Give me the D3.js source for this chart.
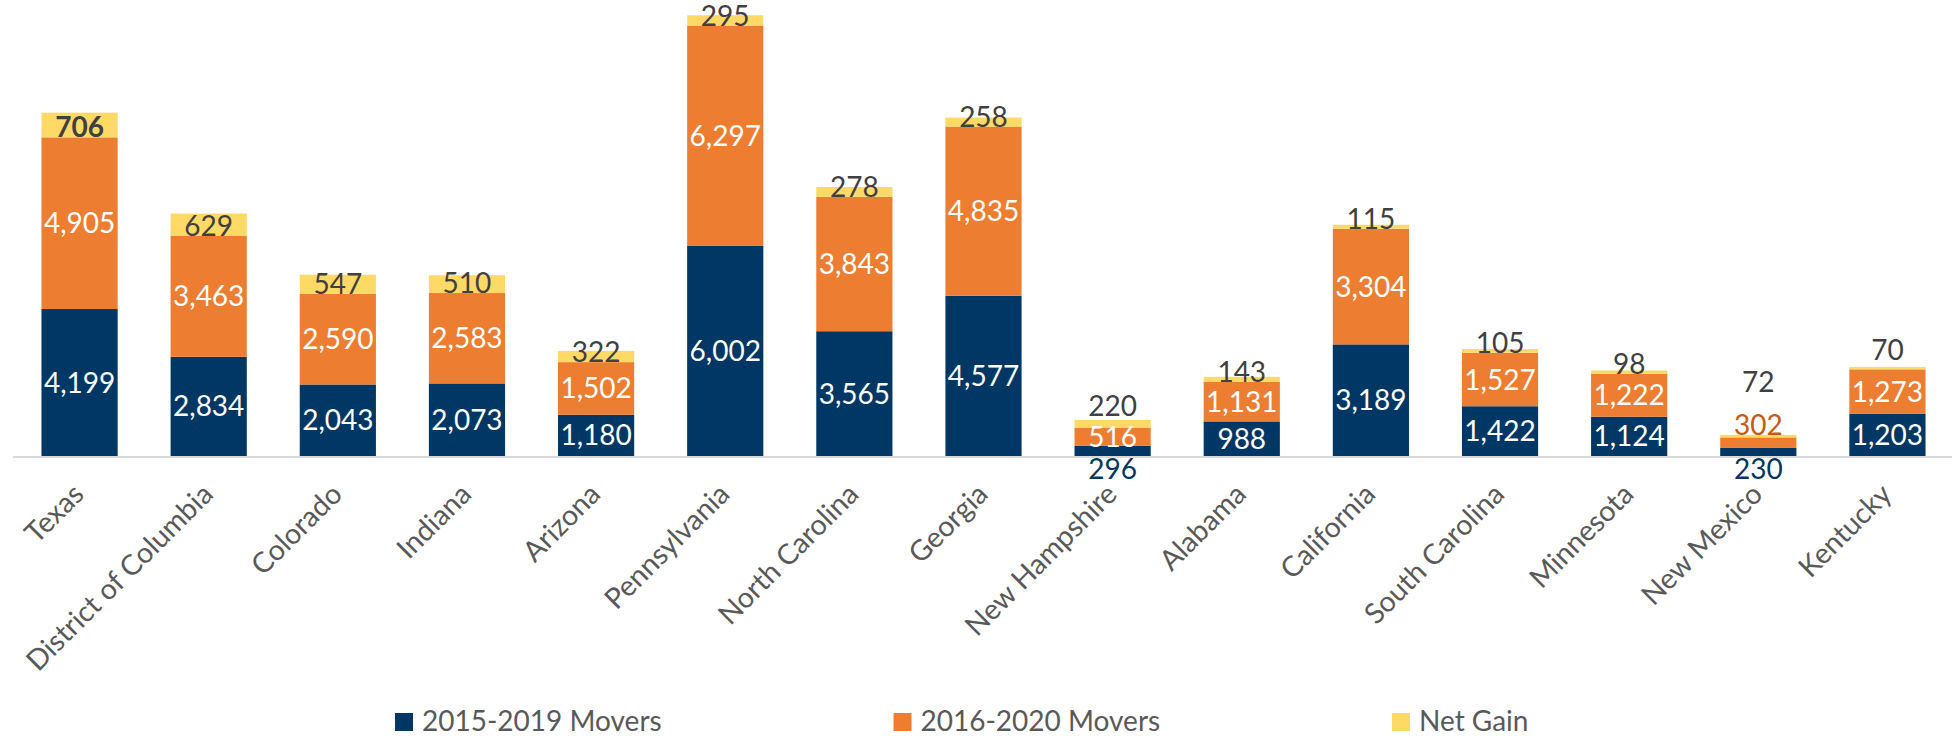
<!DOCTYPE html>
<html>
<head>
<meta charset="utf-8">
<script src="https://cdn.jsdelivr.net/npm/d3@7"></script>
<style>
  html, body { margin: 0; padding: 0; background: #fff; }
  svg { display: block; font-family: Lato, "Open Sans", sans-serif; }
</style>
</head>
<body>
<svg id="chart" width="1952" height="737"></svg>
<script>
// ---- data ----
const categories = ["Texas", "District of Columbia", "Colorado", "Indiana", "Arizona",
  "Pennsylvania", "North Carolina", "Georgia", "New Hampshire", "Alabama",
  "California", "South Carolina", "Minnesota", "New Mexico", "Kentucky"];
const movers2015_2019 = [4199, 2834, 2043, 2073, 1180, 6002, 3565, 4577, 296, 988, 3189, 1422, 1124, 230, 1203];
const movers2016_2020 = [4905, 3463, 2590, 2583, 1502, 6297, 3843, 4835, 516, 1131, 3304, 1527, 1222, 302, 1273];
const netGain = [706, 629, 547, 510, 322, 295, 278, 258, 220, 143, 115, 105, 98, 72, 70];
const seriesNames = ["2015-2019 Movers", "2016-2020 Movers", "Net Gain"];

// ---- styling / layout config ----
const colors = ["#003764", "#ED7D31", "#FFD966"];
const W = 1952, H = 737;
const baseY = 456;
const fs = 28;
// label placement tweaks (layout, not data)
const belowAxis = new Set(["New Hampshire", "New Mexico"]);   // first-series label under the axis
const orangeAbove = new Set(["New Mexico"]);                  // second-series label above the bar
const netAboveGap = { "New Hampshire": 4, "Kentucky": 7, "New Mexico": 43 };

const rows = categories.map((c, i) => ({ cat: c, a: movers2015_2019[i], b: movers2016_2020[i], g: netGain[i] }));
const keys = ["a", "b", "g"];
const stacked = d3.stack().keys(keys)(rows);

const svg = d3.select("#chart");
const x = d3.scaleBand().domain(categories).range([15, W]).paddingInner(0.41).paddingOuter(0.205);
const y = d3.scaleLinear().domain([0, 13000]).range([baseY, 1]);

// bars
const layers = svg.append("g").selectAll("g").data(stacked).join("g")
  .attr("fill", (d, i) => colors[i]);
layers.selectAll("rect").data(d => d).join("rect")
  .attr("x", d => x(d.data.cat))
  .attr("width", x.bandwidth())
  .attr("y", d => y(d[1]))
  .attr("height", d => y(d[0]) - y(d[1]));

// axis line
const axis = d3.axisBottom(x).tickSize(0).tickFormat("");
const axG = svg.append("g").attr("transform", `translate(0,${baseY + 1})`).call(axis);
axG.select(".domain").attr("stroke", "#D9D9D9").attr("stroke-width", 2).attr("d", `M13,0H${W}`);

// category labels
const fmt = d3.format(",");
svg.append("g").selectAll("text").data(categories).join("text")
  .attr("transform", d => `translate(${x(d) + x.bandwidth() / 2 + 6},${baseY + 40}) rotate(-45)`)
  .attr("text-anchor", "end")
  .attr("font-size", 28.5)
  .attr("fill", "#595959")
  .text(d => d);

// value labels
const lbl = svg.append("g").attr("font-size", fs).attr("text-anchor", "middle");
const cx = d => x(d.data.cat) + x.bandwidth() / 2;
const capOff = fs * 0.358;

// series 1 (navy)
lbl.selectAll("text.s0").data(stacked[0]).join("text").attr("class", "s0")
  .attr("x", cx)
  .attr("y", d => belowAxis.has(d.data.cat) ? baseY + 23 : (y(d[0]) + y(d[1])) / 2 + capOff)
  .attr("fill", d => belowAxis.has(d.data.cat) ? "#003764" : "#ffffff")
  .text(d => fmt(d.data.a));

// series 2 (orange)
lbl.selectAll("text.s1").data(stacked[1]).join("text").attr("class", "s1")
  .attr("x", cx)
  .attr("y", d => orangeAbove.has(d.data.cat) ? y(stacked[2][categories.indexOf(d.data.cat)][1]) : (y(d[0]) + y(d[1])) / 2 + capOff)
  .attr("fill", d => orangeAbove.has(d.data.cat) ? "#C55A11" : "#ffffff")
  .text(d => fmt(d.data.b));

// series 3 (net gain)
lbl.selectAll("text.s2").data(stacked[2]).join("text").attr("class", "s2")
  .attr("x", cx)
  .attr("y", d => d.data.cat in netAboveGap ? y(d[1]) - netAboveGap[d.data.cat] : y(d[0]))
  .attr("fill", "#404040")
  .attr("font-weight", (d, i) => i === 0 ? "bold" : null)
  .text(d => fmt(d.data.g));

// legend
const legendX = d3.scalePoint().domain(seriesNames).range([395, 1392]);
const lg = svg.append("g").selectAll("g").data(seriesNames).join("g")
  .attr("transform", d => `translate(${legendX(d)},713)`);
lg.append("rect").attr("width", 18).attr("height", 18).attr("fill", (d, i) => colors[i]);
lg.append("text").attr("x", 27).attr("y", 18).attr("font-size", 28).attr("fill", "#595959").text(d => d);
</script>
</body>
</html>
